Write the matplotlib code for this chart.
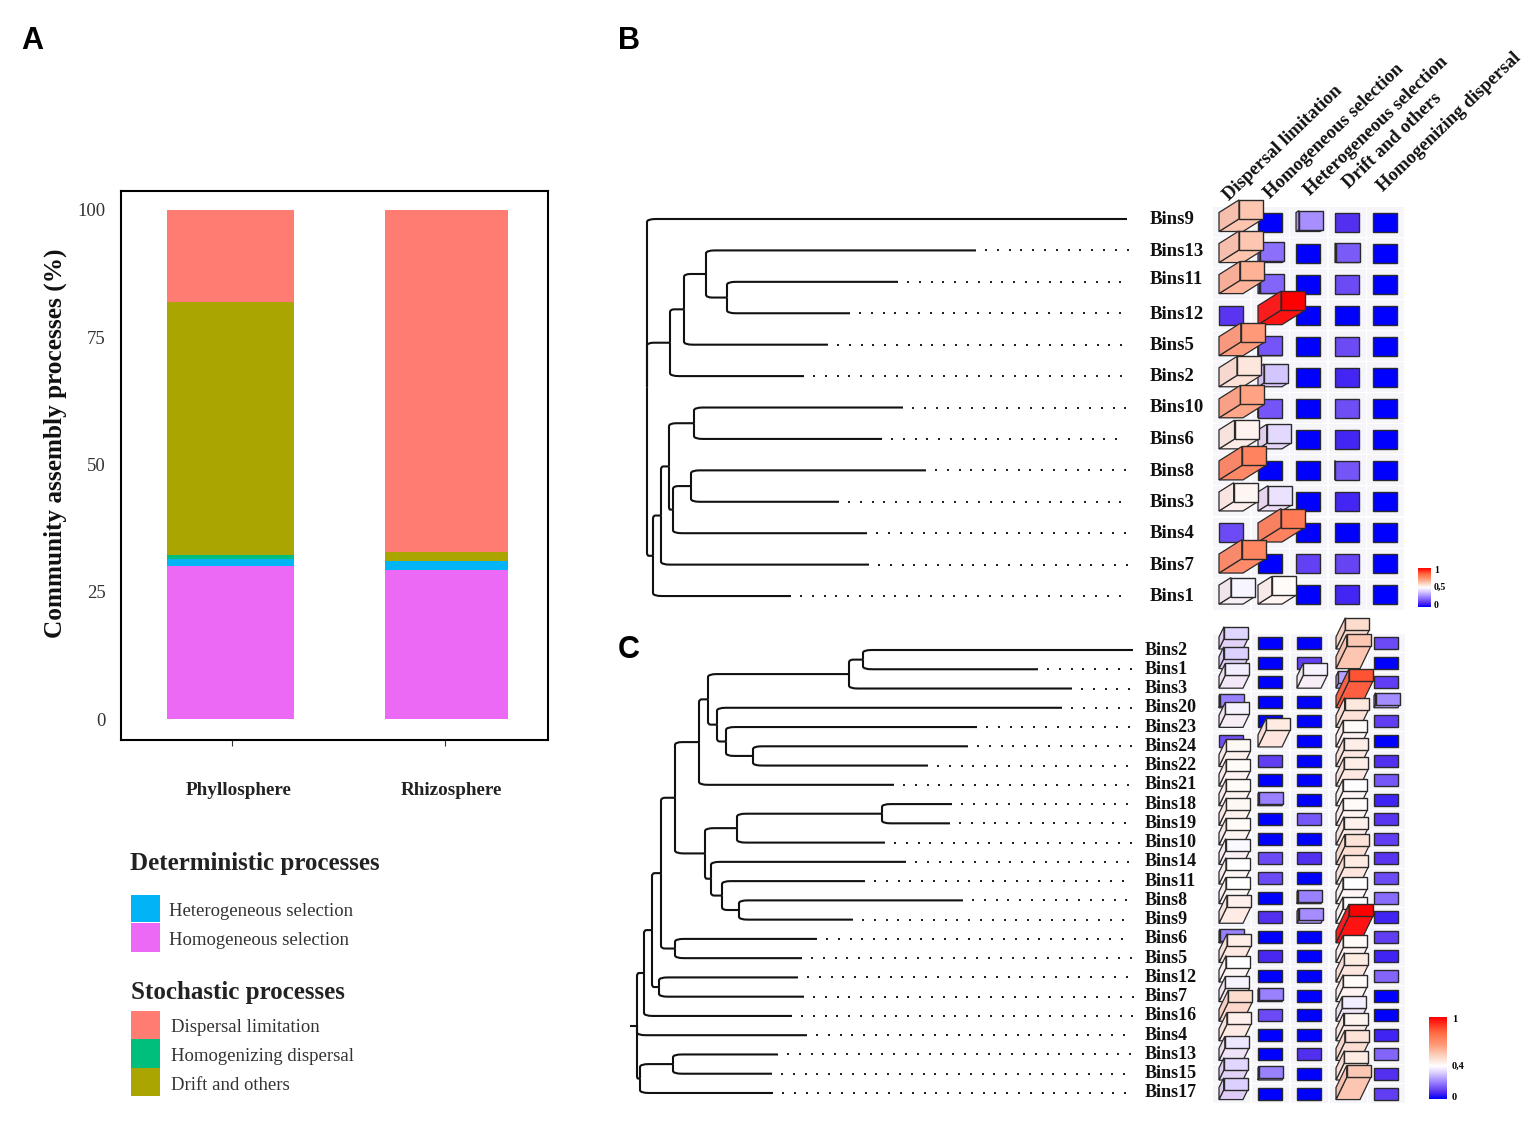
import matplotlib
matplotlib.use('Agg')
import matplotlib.pyplot as plt
import numpy as np
from matplotlib.colors import LinearSegmentedColormap, TwoSlopeNorm
from matplotlib.patches import PathPatch, Polygon, Rectangle
from matplotlib.path import Path

plt.rcParams['font.family'] = ['Liberation Serif', 'DejaVu Serif']

# panel A
compartments = ['Phyllosphere', 'Rhizosphere']
homogeneous_sel = [30.0, 29.3]
heterogeneous_sel = [1.4, 1.7]
homogenizing_disp = [0.8, 0.0]
drift_others = [49.7, 1.9]
dispersal_lim = [18.1, 67.1]

# panel B
bins_b = ['Bins9', 'Bins13', 'Bins11', 'Bins12', 'Bins5', 'Bins2', 'Bins10',
          'Bins6', 'Bins8', 'Bins3', 'Bins4', 'Bins7', 'Bins1']
tips_b = [1127, 976, 898, 850, 828, 804, 903, 882, 926, 839, 867, 869, 791]
nodes_b = [(727, 'Bins11', 'Bins12'), (706, 'Bins13', 0), (684, 1, 'Bins5'),
           (670, 2, 'Bins2'), (694, 'Bins10', 'Bins6'), (691, 'Bins8', 'Bins3'),
           (673, 5, 'Bins4'), (669, 4, 6), (661, 7, 'Bins7'), (653, 8, 'Bins1'),
           (647, 'Bins9', 3, 9)]
processes = ['Dispersal limitation', 'Homogeneous selection', 'Heterogeneous selection',
             'Drift and others', 'Homogenizing dispersal']
values_b = [[.63, 0, .28, .10, 0],
            [.63, .22, 0, .18, 0],
            [.67, .20, 0, .15, 0],
            [.11, 1, 0, 0, 0],
            [.72, .17, 0, .15, 0],
            [.56, .38, 0, .08, 0],
            [.70, .17, 0, .16, 0],
            [.53, .42, 0, .08, 0],
            [.78, 0, 0, .17, 0],
            [.52, .44, 0, .08, 0],
            [.15, .80, 0, 0, 0],
            [.77, 0, .13, .14, 0],
            [.48, .51, 0, .08, 0]]

# panel C
bins_c = ['Bins2', 'Bins1', 'Bins3', 'Bins20', 'Bins23', 'Bins24', 'Bins22', 'Bins21',
          'Bins18', 'Bins19', 'Bins10', 'Bins14', 'Bins11', 'Bins8', 'Bins9', 'Bins6',
          'Bins5', 'Bins12', 'Bins7', 'Bins16', 'Bins4', 'Bins13', 'Bins15', 'Bins17']
tips_c = [1133, 1038, 1072, 1062, 977, 968, 928, 894, 952, 950, 885, 906,
          865, 963, 853, 817, 802, 798, 804, 792, 807, 778, 772, 773]
nodes_c = [(863, 'Bins2', 'Bins1'), (849, 0, 'Bins3'), (753, 'Bins24', 'Bins22'),
           (726, 'Bins23', 2), (717, 'Bins20', 3), (708, 1, 4), (699, 5, 'Bins21'),
           (882, 'Bins18', 'Bins19'), (737, 7, 'Bins10'), (739, 'Bins8', 'Bins9'),
           (722, 'Bins11', 9), (711, 'Bins14', 10), (705, 8, 11), (675, 6, 12),
           (675, 'Bins6', 'Bins5'), (661, 13, 14), (659, 'Bins12', 'Bins7'),
           (652, 15, 16), (644, 17, 'Bins16'), (673, 'Bins13', 'Bins15'),
           (640, 19, 'Bins17'), (637, 18, 'Bins4', 20)]
values_c = [[.33, 0, 0, .50, .12],
            [.32, 0, .10, .55, 0],
            [.37, 0, .38, .25, .10],
            [.20, 0, 0, .85, .22],
            [.38, 0, 0, .47, .10],
            [.13, .46, 0, .41, 0],
            [.42, .10, 0, .45, .08],
            [.41, 0, 0, .45, .14],
            [.41, .20, 0, .40, .06],
            [.42, 0, .14, .41, .09],
            [.41, 0, 0, .44, .10],
            [.39, .12, .08, .48, .09],
            [.40, .12, 0, .46, .12],
            [.40, 0, .20, .40, .17],
            [.44, .08, .22, .40, .06],
            [.20, 0, 0, 1, .10],
            [.45, .07, 0, .41, .06],
            [.40, 0, 0, .46, .16],
            [.38, .20, 0, .41, 0],
            [.50, .12, 0, .37, 0],
            [.44, 0, 0, .43, .06],
            [.36, 0, .08, .48, .16],
            [.33, .20, 0, .46, .08],
            [.32, 0, 0, .55, .10]]

cmap = LinearSegmentedColormap.from_list('bwr2', [
    (0, '#0000ff'), (.10, '#5530f0'), (.25, '#9a80ff'), (.40, '#dcd0ff'), (.5, '#ffffff'),
    (.60, '#fcd6c4'), (.72, '#ff9a78'), (.85, '#ff6840'), (1, '#ff0000')])

fig = plt.figure(figsize=(15.35, 11.22), dpi=100)
ax = fig.add_axes([121 / 1535, 1 - 740 / 1122, 427 / 1535, 549 / 1122])
ax.set_xlim(0.479, 2.484)
ax.set_ylim(-4.1, 103.7)

stack = [('#ec69f5', homogeneous_sel), ('#00b4f6', heterogeneous_sel),
         ('#00bf7d', homogenizing_disp), ('#aaa500', drift_others), ('#ff7c72', dispersal_lim)]
bottom = np.zeros(2)
for colour, vals in stack:
    ax.bar([0.993, 2.007], vals, width=[0.596, 0.577], bottom=bottom, color=colour)
    bottom += np.array(vals)

ax.set_xticks([1, 2], ['', ''])
ax.set_yticks([0, 25, 50, 75, 100])
ax.tick_params(axis='y', labelsize=13.5, labelcolor='#333333', length=0, pad=11)
ax.tick_params(axis='x', length=4, width=0.8, color='#333333')
for s in ax.spines.values():
    s.set_linewidth(1.5)
for i, name in enumerate(compartments):
    ax.text(i + 1.03, -14.1, name, ha='center', va='center', fontsize=13.8, fontweight='bold',
            color='#222222', clip_on=False)

# everything else sits on a full figure axes in pixel units
ov = fig.add_axes([0, 0, 1, 1], facecolor='none')
ov.set_xlim(0, 1535)
ov.set_ylim(1122, 0)
ov.axis('off')

ov.text(55, 443, 'Community assembly processes (%)', rotation=90, fontsize=18.2, fontweight='bold',
        ha='center', va='center', color='#111111')

for letter, x, y in [('A', 32, 41), ('B', 629, 41), ('C', 629, 650)]:
    ov.text(x, y, letter, fontsize=22, fontweight='bold', family='Liberation Sans',
            ha='center', va='center')

ov.text(130, 863, 'Deterministic processes', fontsize=18, fontweight='bold', va='center', color='#222222')
ov.text(131, 992, 'Stochastic processes', fontsize=18, fontweight='bold', va='center', color='#222222')
legend_rows = [('#00b4f6', 'Heterogeneous selection', 895, 27, 169), ('#ec69f5', 'Homogeneous selection', 923, 29, 169),
               ('#ff7c72', 'Dispersal limitation', 1011, 28, 171), ('#00bf7d', 'Homogenizing dispersal', 1039, 29, 171),
               ('#aaa500', 'Drift and others', 1068, 28, 171)]
for colour, label, top, hgt, tx in legend_rows:
    ov.add_patch(Rectangle((131, top), 29, hgt, color=colour, lw=0))
    ov.text(tx, top + hgt / 2 + 3, label, fontsize=13.5, va='center', color='#333333')


def draw_tree(axs, bins, tips, nodes, ys, dot_end, stub=None):
    pos = {b: (t, y) for b, t, y in zip(bins, tips, ys)}
    for t, y in zip(tips, ys):
        if t < dot_end - 12:
            dots = np.arange(t + 10, dot_end, 11.8)
            axs.plot(dots, np.full(len(dots), y), ls='none', marker='s', ms=1.8, color='#222222', mew=0)
    for k, node in enumerate(nodes):
        h, kids = node[0], node[1:]
        kid_y = [pos[c][1] for c in kids]
        mid = (kid_y[0] + kid_y[-1]) / 2
        for c in kids:
            cx, cy = pos[c]
            rx = min(0.3 * (cx - h), 9)
            ry = min(abs(cy - mid) * 0.3, 3) * np.sign(cy - mid)
            verts = [(h, mid), (h, cy - ry), (h, cy), (h + rx, cy), (cx, cy)]
            codes = [Path.MOVETO, Path.LINETO, Path.CURVE3, Path.CURVE3, Path.LINETO]
            axs.add_patch(PathPatch(Path(verts, codes), fc='none', ec='#111111', lw=1.5))
        pos[k] = (h, mid)
    if stub is not None:
        axs.plot([stub, nodes[-1][0]], [mid, mid], color='#111111', lw=1.5)


def draw_cell(axs, cx, cy, w, h, dx, dy, colour):
    x0, x1 = cx - w / 2, cx + w / 2
    y0, y1 = cy + h / 2, cy - h / 2
    c = np.array(colour[:3])
    edge = '#2a2a2a'
    if dx > 0.3:
        axs.add_patch(Polygon([(x0, y0), (x1, y0), (x1 + dx, y0 - dy), (x0 + dx, y0 - dy)],
                              fc=c * .9 + .1 * np.array([1, .7, .7]), ec=edge, lw=0.9))
        axs.add_patch(Polygon([(x0, y0), (x0, y1), (x0 + dx, y1 - dy), (x0 + dx, y0 - dy)],
                              fc=c * .82 + .18 * np.array([.85, .6, .6]), ec=edge, lw=0.9))
    axs.add_patch(Rectangle((x0 + dx, y1 - dy), w, h, fc=c, ec=edge, lw=1.0))


def draw_matrix(axs, values, col_x, rows_y, w, h, cellh, norm, depth, slope):
    for x in col_x:
        for y in rows_y:
            axs.add_patch(Rectangle((x - 18.5, y - cellh / 2), 37, cellh, fc='#f5f5fa', ec='none'))
    for vals, y in zip(values, rows_y):
        for j in range(4, -1, -1):
            dx = depth(vals[j])
            draw_cell(axs, col_x[j], y, w, h, dx, dx * slope, cmap(norm(vals[j])))


def draw_colourbar(axs, norm, left, right, top, low, ticks, labels, tx, size):
    grad = np.linspace(1, 0, 128).reshape(-1, 1)
    axs.imshow(cmap(norm(grad)), extent=[left, right, low, top], aspect='auto', zorder=3)
    for t, lab in zip(ticks, labels):
        axs.text(tx, low - 2 - (low - top - 4) * t, lab, fontsize=size, fontweight='bold', va='center', ha='left')


# B
ys_b = 219 + 31.42 * np.arange(13)
draw_tree(ov, bins_b, tips_b, nodes_b, ys_b, 1128)
label_y_b = [219, 251, 279, 314, 345, 376, 407, 439, 471, 502, 533, 565, 596]
for b, y in zip(bins_b, label_y_b):
    ov.text(1150, y, b, fontsize=13.5, fontweight='bold', va='center', color='#111111')
cols_b = [1231, 1270, 1308, 1347, 1385]
rows_b = 222 + 31.05 * np.arange(13)
norm_b = TwoSlopeNorm(vmin=0, vcenter=.5, vmax=1)
depth_b = lambda v: float(np.interp(v, [0, .16, .2, .28, .38, .44, .5, .56, .63, .78, 1],
                                    [0, 0, 1.5, 3, 6, 10, 13, 18, 20, 23, 23]))
draw_matrix(ov, values_b, cols_b, rows_b, 24, 19, 30, norm_b, depth_b, 0.63)
head_xy = [(1226, 198), (1267, 196), (1307, 193), (1346, 186), (1380, 189)]
for p, (x, y) in zip(processes, head_xy):
    ov.text(x, y, p, rotation=44, rotation_mode='anchor', fontsize=13.5, fontweight='bold',
            ha='left', va='center', color='#111111')
draw_colourbar(ov, norm_b, 1418, 1431, 568, 607, [1, .5, 0], ['1', '0,5', '0'], 1434, 7)

# C
ys_c = 650 + 19.26 * np.arange(24)
draw_tree(ov, bins_c, tips_c, nodes_c, ys_c, 1133, stub=631)
for b, y in zip(bins_c, ys_c):
    ov.text(1145, y, b, fontsize=13, fontweight='bold', va='center', color='#111111')
cols_c = [1231, 1270, 1309, 1348, 1386]
rows_c = 643 + 19.59 * np.arange(24)
norm_c = TwoSlopeNorm(vmin=0, vcenter=.4, vmax=1)
depth_c = lambda v: float(np.interp(v, [0, .17, .22, .33, .4, .5, .55, .85, 1],
                                    [0, 0, 1.5, 5, 7, 9.3, 10.7, 13, 13]))
draw_matrix(ov, values_c, cols_c, rows_c, 24, 12, 18.6, norm_c, depth_c, 2.07)
draw_colourbar(ov, norm_c, 1429, 1447, 1017, 1099, [1, .4, 0], ['1', '0,4', '0'], 1452, 7.5)

ov.set_xlim(0, 1535)
ov.set_ylim(1122, 0)
fig.savefig('out.png', dpi=100)
